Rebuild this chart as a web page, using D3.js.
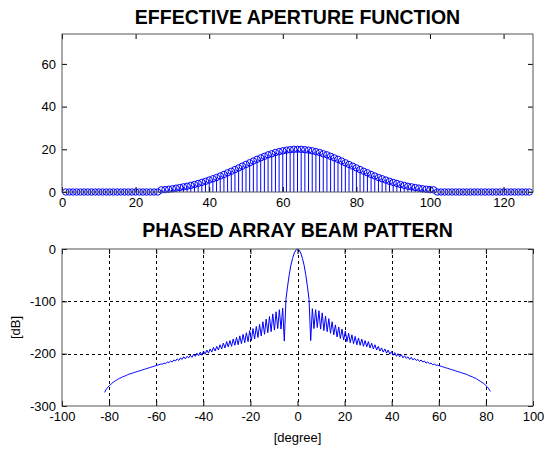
<!DOCTYPE html>
<html><head><meta charset="utf-8">
<script src="https://cdn.jsdelivr.net/npm/d3@7/dist/d3.min.js"></script>
<style>
body{margin:0;background:#fff}
svg{display:block}
text{font-family:"Liberation Sans",Arial,Helvetica,sans-serif}
</style>
</head><body>
<svg id="c" width="544" height="450"></svg>
<script>
// ---------- data ----------
const titles = ["EFFECTIVE APERTURE FUNCTION", "PHASED ARRAY BEAM PATTERN"];

const apertureIndex = d3.range(1, 128);
const apertureValues = [
  0,0,0,0,0,0,0,0,0,0,0,0,0,0,0,0,0,0,0,0,0,0,0,0,0,0,
  1.0,1.1,1.3,1.5,1.8,2.1,2.4,2.7,3.1,3.5,4.0,4.5,5.0,5.6,6.2,6.8,7.5,8.2,9.0,9.7,
  10.5,11.3,12.1,12.9,13.7,14.5,15.3,16.0,16.7,17.4,17.9,18.5,18.9,19.3,19.6,19.8,20.0,
  20.0,
  20.0,19.8,19.6,19.3,18.9,18.5,17.9,17.4,16.7,16.0,15.3,14.5,13.7,12.9,12.1,11.3,10.5,
  9.7,9.0,8.2,7.5,6.8,6.2,5.6,5.0,4.5,4.0,3.5,3.1,2.7,2.4,2.1,1.8,1.5,1.3,1.1,1.0,
  0,0,0,0,0,0,0,0,0,0,0,0,0,0,0,0,0,0,0,0,0,0,0,0,0,0
];
const apertureXTicks = [0, 20, 40, 60, 80, 100, 120];
const apertureYTicks = [0, 20, 40, 60];

// beam pattern sampled every 0.7 degree from -81.9 to 81.9
const beamAngles = d3.range(-117, 118).map(k => +(k * 0.7).toFixed(1));
const beamDb = [
  -274,-268,-264,-261,-258,-255,-253,-251,-249,-247,-246,-244,-243,-242,-240,-239,-238,-237,-236,-235,
  -234,-233,-232,-231,-230,-229,-228,-227,-226,-225,-224,-223,-222,-221,-220,-220,-218,-219,-216,-217,
  -214,-216,-212,-214,-210,-213,-208,-211,-206,-210,-205,-208,-203,-207,-201,-205,-199,-204,-197,-203,
  -195,-201,-193,-199,-191,-197,-188,-195,-186,-193,-183,-191,-180,-189,-177,-187,-175,-186,-172,-184,
  -169,-183,-166,-181,-163,-179,-160,-177,-156,-175,-152,-172,-148,-169,-144,-166,-139,-163,-134,-160,
  -129,-158,-124,-155,-120,-152,-116,-153,-113,-176,
  -96,-71,-49,-31,-18,-8,-2,0,-2,-8,-18,-31,-49,-71,-96,
  -175,-114,-152,-116,-150,-118,-153,-122,-156,-128,-158,-133,-161,-139,-164,-145,-168,-149,-171,-153,
  -174,-157,-177,-161,-179,-164,-181,-167,-183,-170,-184,-172,-186,-175,-187,-177,-189,-180,-191,-183,
  -193,-186,-195,-189,-197,-191,-199,-193,-201,-196,-203,-198,-205,-200,-206,-202,-208,-204,-209,-206,
  -211,-207,-212,-209,-213,-211,-215,-212,-216,-214,-218,-216,-219,-218,-221,-220,-222,-222,-223,-224,
  -225,-226,-227,-228,-229,-230,-231,-232,-233,-234,-235,-236,-237,-238,-239,-240,-242,-243,-244,-246,
  -247,-249,-251,-253,-255,-257,-260,-263,-267,-272
];
const beamXTicks = [-100, -80, -60, -40, -20, 0, 20, 40, 60, 80, 100];
const beamYTicks = [-300, -200, -100, 0];
const beamXLabel = "[degree]";
const beamYLabel = "[dB]";

// ---------- drawing ----------
const svg = d3.select("#c");
const L = 62, R = 533;
const top1 = { t: 34, b: 192 };
const top2 = { t: 249, b: 406 };
const BLUE = "#0000ff";
const FS = 13;
const fmt = d => String(d);

function frame(g, x, y, xt, yt, t, b) {
  g.append("g").attr("transform", `translate(0,${b})`)
    .call(d3.axisBottom(x).tickValues(xt).tickSize(-5).tickPadding(6).tickFormat(fmt))
    .call(s => { s.select(".domain").remove(); s.selectAll("text").attr("font-size", FS).attr("fill", "#000"); s.selectAll("line").attr("stroke", "#000"); })
    .attr("font-family", null);
  g.append("g").attr("transform", `translate(0,${t})`)
    .call(d3.axisTop(x).tickValues(xt).tickSize(-5).tickFormat(""))
    .call(s => { s.select(".domain").remove(); s.selectAll("line").attr("stroke", "#000"); });
  g.append("g").attr("transform", `translate(${L},0)`)
    .call(d3.axisLeft(y).tickValues(yt).tickSize(-5).tickPadding(6).tickFormat(fmt))
    .call(s => { s.select(".domain").remove(); s.selectAll("text").attr("font-size", FS).attr("fill", "#000"); s.selectAll("line").attr("stroke", "#000"); })
    .attr("font-family", null);
  g.append("g").attr("transform", `translate(${R},0)`)
    .call(d3.axisRight(y).tickValues(yt).tickSize(-5).tickFormat(""))
    .call(s => { s.select(".domain").remove(); s.selectAll("line").attr("stroke", "#000"); });
  g.append("rect").attr("x", L).attr("y", t).attr("width", R - L).attr("height", b - t)
    .attr("fill", "none").attr("stroke", "#555").attr("stroke-width", 1);
}

// ---- top: stem plot ----
const x1 = d3.scaleLinear().domain([0, 128]).range([L, R]);
const y1 = d3.scaleLinear().domain([0, 74]).range([top1.b, top1.t]);
const g1 = svg.append("g");
const stems = apertureIndex.map((d, i) => ({ x: d, v: apertureValues[i] }));
g1.append("g").selectAll("line").data(stems).join("line")
  .attr("x1", d => x1(d.x)).attr("x2", d => x1(d.x))
  .attr("y1", y1(0)).attr("y2", d => y1(d.v))
  .attr("stroke", BLUE).attr("stroke-width", 1);
g1.append("g").selectAll("circle").data(stems).join("circle")
  .attr("cx", d => x1(d.x)).attr("cy", d => y1(d.v)).attr("r", 3.2)
  .attr("fill", "none").attr("stroke", BLUE).attr("stroke-width", 1);
frame(g1, x1, y1, apertureXTicks, apertureYTicks, top1.t, top1.b);
svg.append("text").attr("x", (L + R) / 2).attr("y", 24).attr("text-anchor", "middle")
  .attr("font-size", 19.5).attr("font-weight", "bold").text(titles[0]);

// ---- bottom: beam pattern ----
const x2 = d3.scaleLinear().domain([-100, 100]).range([L, R]);
const y2 = d3.scaleLinear().domain([-300, 0]).range([top2.b, top2.t]);
const g2 = svg.append("g");
const grid = g2.append("g").attr("stroke", "#000").attr("stroke-width", 1).attr("stroke-dasharray", "3,3");
grid.selectAll("line.v").data(beamXTicks.slice(1, -1)).join("line").attr("class", "v")
  .attr("x1", d => Math.round(x2(d)) + 0.5).attr("x2", d => Math.round(x2(d)) + 0.5)
  .attr("y1", top2.t).attr("y2", top2.b);
grid.selectAll("line.h").data(beamYTicks.slice(1, -1)).join("line").attr("class", "h")
  .attr("y1", d => Math.round(y2(d)) + 0.5).attr("y2", d => Math.round(y2(d)) + 0.5)
  .attr("x1", L).attr("x2", R);
const pts = beamAngles.map((a, i) => [a, beamDb[i]]);
g2.append("path").datum(pts)
  .attr("d", d3.line().x(d => x2(d[0])).y(d => y2(d[1])))
  .attr("fill", "none").attr("stroke", BLUE).attr("stroke-width", 1);
frame(g2, x2, y2, beamXTicks, beamYTicks, top2.t, top2.b);
svg.append("text").attr("x", (L + R) / 2).attr("y", 237).attr("text-anchor", "middle")
  .attr("font-size", 19.5).attr("font-weight", "bold").text(titles[1]);
svg.append("text").attr("x", (L + R) / 2).attr("y", 442).attr("text-anchor", "middle")
  .attr("font-size", FS).text(beamXLabel);
svg.append("text").attr("transform", `translate(20,${(top2.t + top2.b) / 2}) rotate(-90)`)
  .attr("text-anchor", "middle").attr("font-size", FS).text(beamYLabel);
</script>
</body></html>
